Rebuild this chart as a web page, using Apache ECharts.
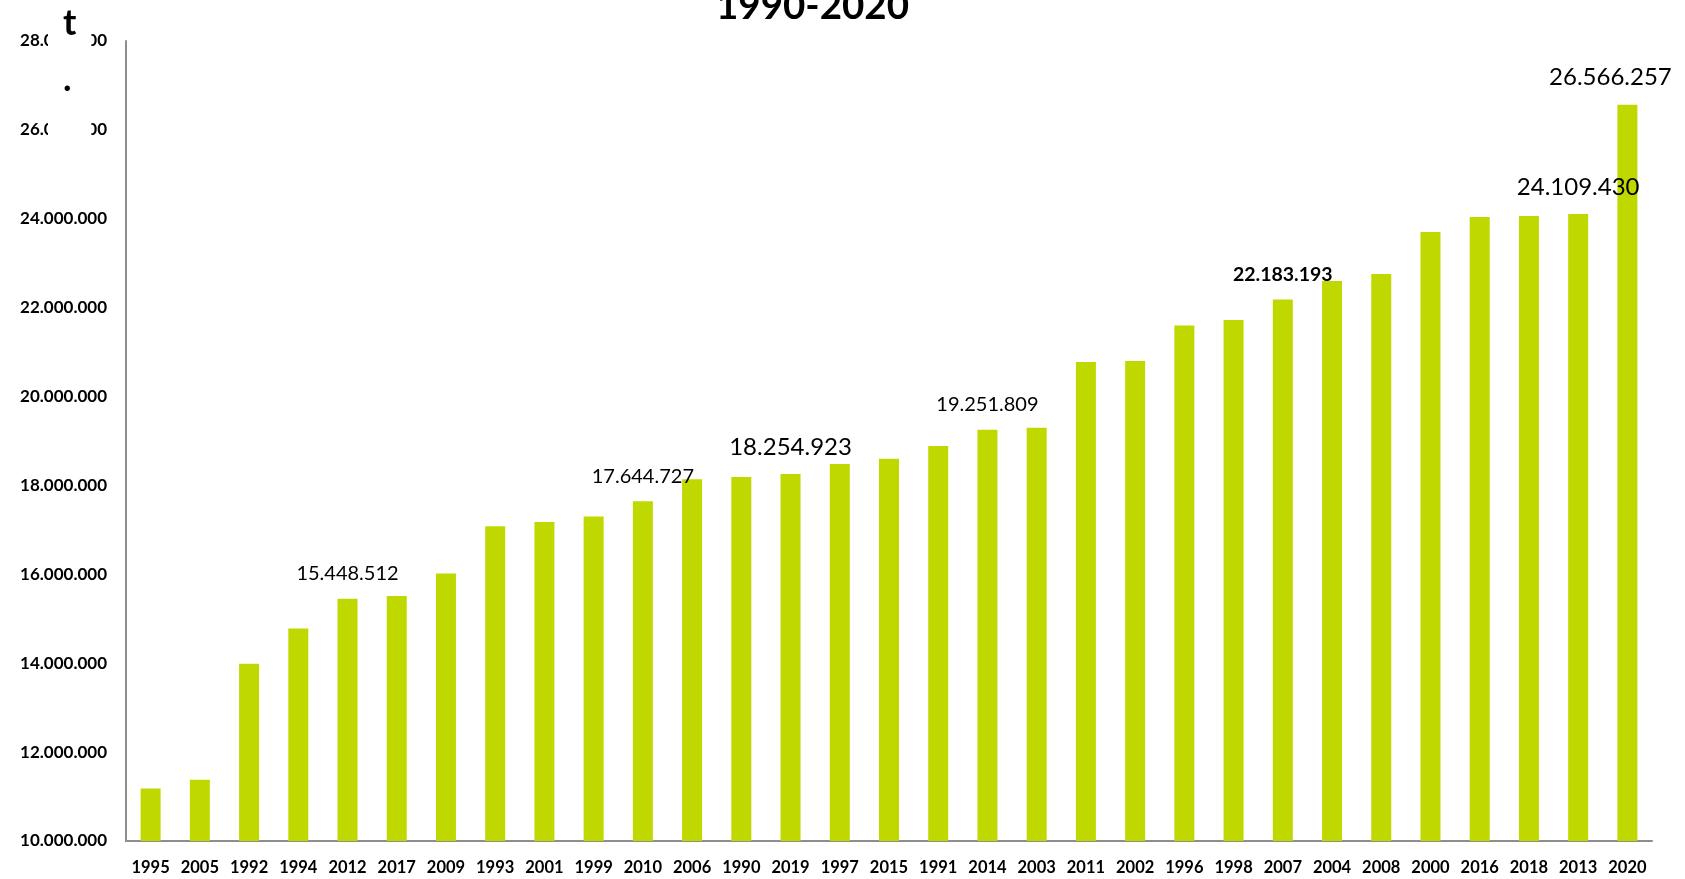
<!DOCTYPE html>
<html>
<head>
<meta charset="utf-8">
<script src="https://cdn.jsdelivr.net/npm/echarts@6/dist/echarts.min.js"></script>
<style>
  html, body { margin: 0; padding: 0; background: #fff; }
  #chart { width: 1685px; height: 879px; }
</style>
</head>
<body>
<div id="chart"></div>
<script>
// years in the order they appear on the axis (sorted by value)
const years = ["1995", "2005", "1992", "1994", "2012", "2017", "2009", "1993", "2001", "1999",
    "2010", "2006", "1990", "2019", "1997", "2015", "1991", "2014", "2003", "2011",
    "2002", "1996", "1998", "2007", "2004", "2008", "2000", "2016", "2018", "2013", "2020"];

const tonnes = [11180000, 11380000, 13990000, 14780000, 15448512, 15510000, 16020000, 17080000, 17180000, 17300000,
    17644727, 18140000, 18190000, 18254923, 18480000, 18600000, 18890000, 19251809, 19300000, 20780000,
    20800000, 21600000, 21720000, 22183193, 22600000, 22760000, 23700000, 24040000, 24060000, 24109430, 26566257];

// years whose value is written above the bar
const labelledYears = ["2012", "2010", "2019", "2014", "2007", "2013", "2020"];

const yTicks = { min: 10000000, max: 28000000, step: 2000000 };

const fmt = v => String(Math.round(v)).replace(/\B(?=(\d{3})+(?!\d))/g, ".");

// label look per year (the original mixes sizes / weights)
const labelLook = {
    "2012": { fontSize: 20 },
    "2010": { fontSize: 20 },
    "2014": { fontSize: 20 },
    "2007": { fontSize: 19.5, fontWeight: "bold" },
    "2019": { fontSize: 24 },
    "2013": { fontSize: 24 },
    "2020": { fontSize: 24, offset: [-17, 0] }
};

const chart = echarts.init(document.getElementById("chart"));

const barData = tonnes.map((v, i) => {
    const y = years[i];
    if (!labelledYears.includes(y)) return v;
    const look = labelLook[y] || {};
    return {
        value: v,
        label: {
            show: true,
            position: "top",
            distance: 15,
            color: "#000",
            fontFamily: "Lato",
            fontWeight: look.fontWeight || "normal",
            fontSize: look.fontSize,
            lineHeight: look.fontSize,
            offset: look.offset || [0, 0],
            formatter: p => fmt(p.value)
        }
    };
});

chart.setOption({
    animation: false,
    title: [
        {
            text: "1990-2020",
            left: 711,
            top: -17,
            textStyle: { fontFamily: "Lato", fontWeight: "bold", fontSize: 38.5, color: "#000", lineHeight: 38 }
        },
        {
            // unit of the value axis, its white box hides part of the top tick labels
            text: "t\n.",
            left: 48,
            top: -11,
            backgroundColor: "#fff",
            padding: [6, 15, 40, 15],
            textStyle: { fontFamily: "Lato", fontWeight: "bold", fontSize: 36, color: "#000", lineHeight: 56 }
        }
    ],
    grid: { left: 126, right: 33, top: 41, bottom: 38 },
    xAxis: {
        type: "category",
        data: years,
        axisLine: { lineStyle: { color: "#8e8e8e", width: 2 } },
        axisTick: { show: false },
        axisLabel: {
            interval: 0,
            margin: 18,
            color: "#000",
            fontFamily: "Lato",
            fontWeight: "bold",
            fontSize: 16.5
        }
    },
    yAxis: {
        type: "value",
        min: yTicks.min,
        max: yTicks.max,
        interval: yTicks.step,
        axisLine: { show: true, lineStyle: { color: "#8e8e8e", width: 2 } },
        axisTick: { show: false },
        splitLine: { show: false },
        axisLabel: {
            margin: 19,
            color: "#000",
            fontFamily: "Lato",
            fontWeight: "bold",
            fontSize: 17,
            formatter: v => fmt(v)
        }
    },
    series: [
        {
            type: "bar",
            data: barData,
            barWidth: 20,
            itemStyle: { color: "#bfd900" }
        }
    ]
});
</script>
</body>
</html>
